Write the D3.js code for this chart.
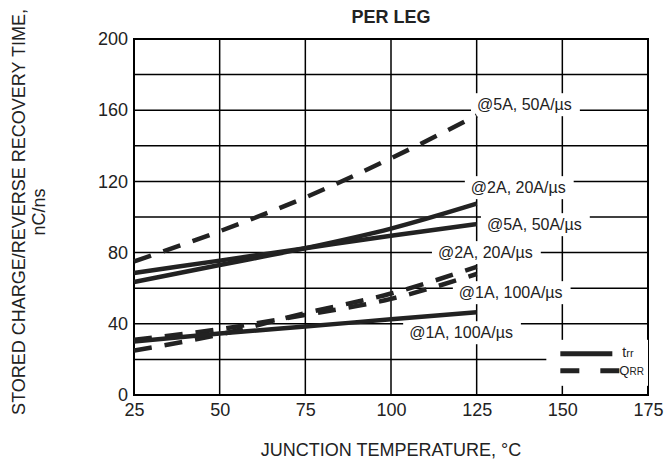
<!DOCTYPE html>
<html>
<head>
<meta charset="utf-8">
<script src="https://cdn.jsdelivr.net/npm/d3@7"></script>
<style>
  body { margin: 0; background: #fff; }
  svg { display: block; font-family: "Liberation Sans", Arial, sans-serif; }
</style>
</head>
<body>
<svg id="chart"></svg>
<script>
// chart.js

const width = 667;
const height = 460;

// Data (junction temperature vs value).
const temps = [25, 50, 75, 100, 125];
const qrr5A = [75, 92, 111, 133, 157];
const trr2A = [63.5, 73, 82.5, 93.5, 107.5];
const trr5A = [68.5, 75.5, 82.5, 89.5, 96];
const qrr2A = [25, 34, 46, 57, 72];
const qrr1A = [31, 37, 45, 54, 68];
const trr1A = [30, 34.5, 38.5, 42.5, 46.5];

const xTicks = [25, 50, 75, 100, 125, 150, 175];
const yTicks = [0, 40, 80, 120, 160, 200];
const yGrid = [0, 20, 40, 60, 80, 100, 120, 140, 160, 180, 200];

// Curves: values, dashed?, label text, label anchor (temp, value).
const series = [
  { values: qrr5A, dashed: true,  label: "@5A, 50A/µs",  at: [125.1, 160] },
  { values: trr2A, dashed: false, label: "@2A, 20A/µs",  at: [123.3, 113.4] },
  { values: trr5A, dashed: false, label: "@5A, 50A/µs",  at: [128, 92.6] },
  { values: qrr2A, dashed: true,  label: "@2A, 20A/µs",  at: [113.7, 76.9] },
  { values: qrr1A, dashed: true,  label: "@1A, 100A/µs", at: [119.8, 54.4] },
  { values: trr1A, dashed: false, label: "@1A, 100A/µs", at: [105.3, 31.9] }
];

const margin = { top: 39, right: 19, bottom: 65, left: 134 };
const innerW = width - margin.left - margin.right;
const innerH = height - margin.top - margin.bottom;

const svg = d3.select("#chart").attr("width", width).attr("height", height);

const x = d3.scaleLinear().domain([25, 175]).range([0, innerW]);
const y = d3.scaleLinear().domain([0, 200]).range([innerH, 0]);

const g = svg.append("g").attr("transform", `translate(${margin.left},${margin.top})`);

// Grid lines
g.append("g").selectAll("line").data(xTicks).join("line")
  .attr("x1", d => x(d)).attr("x2", d => x(d))
  .attr("y1", 0).attr("y2", innerH)
  .attr("stroke", "#000").attr("stroke-width", 1.5);

g.append("g").selectAll("line").data(yGrid).join("line")
  .attr("x1", 0).attr("x2", innerW)
  .attr("y1", d => y(d)).attr("y2", d => y(d))
  .attr("stroke", "#000").attr("stroke-width", 1.5);

// Frame
g.append("rect")
  .attr("width", innerW).attr("height", innerH)
  .attr("fill", "none").attr("stroke", "#000").attr("stroke-width", 2);

// Axes (labels only, the grid does the ticks)
const xAxis = g.append("g")
  .attr("transform", `translate(0,${innerH})`)
  .call(d3.axisBottom(x).tickValues(xTicks).tickSize(0).tickPadding(8));
const yAxis = g.append("g")
  .call(d3.axisLeft(y).tickValues(yTicks).tickSize(0).tickPadding(6));
[xAxis, yAxis].forEach(a => {
  a.select(".domain").remove();
  a.selectAll("text").attr("font-size", 18).attr("fill", "#222")
    .attr("font-family", "Liberation Sans, Arial, sans-serif");
});

// Label boxes go under the curves but over the grid.
const boxLayer = g.append("g");
const lineLayer = g.append("g");
const textLayer = g.append("g");

const line = d3.line()
  .x((d, i) => x(temps[i]))
  .y(d => y(d))
  .curve(d3.curveMonotoneX);

series.forEach(s => {
  lineLayer.append("path")
    .attr("d", line(s.values))
    .attr("fill", "none")
    .attr("stroke", "#222")
    .attr("stroke-width", 4.5)
    .attr("stroke-dasharray", s.dashed ? "18,13" : null);

  const t = textLayer.append("text")
    .attr("x", x(s.at[0]))
    .attr("y", y(s.at[1]))
    .attr("font-size", 16)
    .attr("fill", "#222")
    .text(s.label);
  const b = t.node().getBBox();
  boxLayer.append("rect")
    .attr("x", b.x - 6).attr("y", b.y - 3)
    .attr("width", b.width + 14).attr("height", b.height + 6)
    .attr("fill", "#fff");
});

// Legend
const leg = g.append("g")
  .attr("transform", `translate(${x(150) - 16},${y(31)})`);
leg.append("rect")
  .attr("width", x(175) - x(150) + 16).attr("height", 46)
  .attr("fill", "#fff");
leg.append("line")
  .attr("x1", 14).attr("x2", 66).attr("y1", 14).attr("y2", 14)
  .attr("stroke", "#222").attr("stroke-width", 5);
leg.append("line")
  .attr("x1", 14).attr("x2", 73).attr("y1", 31).attr("y2", 31)
  .attr("stroke", "#222").attr("stroke-width", 5)
  .attr("stroke-dasharray", "19,21");
const t1 = leg.append("text").attr("x", 76).attr("y", 17).attr("fill", "#222");
t1.append("tspan").attr("font-size", 14).text("t");
t1.append("tspan").attr("font-size", 11).text("rr");
const t2 = leg.append("text").attr("x", 73).attr("y", 35).attr("fill", "#222");
t2.append("tspan").attr("font-size", 13).text("Q");
t2.append("tspan").attr("font-size", 10).text("RR");

// Title
svg.append("text")
  .attr("x", margin.left + innerW / 2).attr("y", 23)
  .attr("text-anchor", "middle")
  .attr("font-size", 18).attr("font-weight", "bold").attr("fill", "#222")
  .text("PER LEG");

// Axis titles
svg.append("text")
  .attr("x", margin.left + innerW / 2).attr("y", 456)
  .attr("text-anchor", "middle")
  .attr("font-size", 18).attr("fill", "#222")
  .text("JUNCTION TEMPERATURE, °C");

const yTitle = svg.append("text")
  .attr("transform", "translate(25,212) rotate(-90)")
  .attr("text-anchor", "middle")
  .attr("font-size", 18).attr("fill", "#222");
yTitle.append("tspan").attr("x", 0).attr("y", 0).text("STORED CHARGE/REVERSE RECOVERY TIME,");
yTitle.append("tspan").attr("x", 0).attr("y", 20).text("nC/ns");
</script>
</body>
</html>
